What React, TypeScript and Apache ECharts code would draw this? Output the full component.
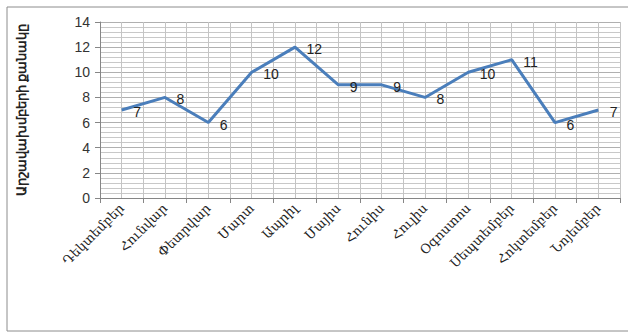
import React, { useEffect, useRef } from "react";
import * as echarts from "echarts";

const months = [
  "Դեկտեմբեր",
  "Հունվար",
  "Փետրվար",
  "Մարտ",
  "Ապրիլ",
  "Մայիս",
  "Հունիս",
  "Հուլիս",
  "Օգոստոս",
  "Սեպտեմբեր",
  "Հոկտեմբեր",
  "Նոյեմբեր",
];
const expeditions = [7, 8, 6, 10, 12, 9, 9, 8, 10, 11, 6, 7];
const halfSlots = Array.from({ length: months.length * 2 }, () => "");
const yAxisTitle = "Արշավախմբերի քանակը";

export default function App() {
  const ref = useRef<HTMLDivElement>(null);
  useEffect(() => {
    if (!ref.current) return;
    const chart = echarts.init(ref.current, undefined, { renderer: "svg" });
    chart.setOption({
      animation: false,
      backgroundColor: "#ffffff",
      graphic: [
        {
          type: "rect",
          shape: { x: 7, y: 7, width: 640, height: 324 },
          style: { fill: "none", stroke: "#8c8c8c", lineWidth: 1 },
          silent: true,
          z: -10,
        },
      ],
      grid: { left: 100, top: 22, right: 8, bottom: 134, containLabel: false },
      xAxis: [
        {
          type: "category",
          data: months,
          boundaryGap: true,
          axisLine: { show: true, lineStyle: { color: "#868686", width: 1 } },
          axisTick: { show: true, length: 5, lineStyle: { color: "#868686" } },
          axisLabel: {
            interval: 0,
            rotate: 45,
            fontSize: 13,
            fontFamily: "DejaVu Serif",
            color: "#222",
            margin: 8,
          },
          splitLine: { show: false },
          z: 5,
        },
        {
          type: "category",
          data: halfSlots,
          boundaryGap: true,
          position: "bottom",
          axisLine: { show: false },
          axisTick: { show: false },
          axisLabel: { show: false },
          splitLine: { show: true, interval: 0, lineStyle: { color: "#c4c4c4", width: 1 } },
        },
      ],
      yAxis: {
        type: "value",
        min: 0,
        max: 14,
        interval: 2,
        name: yAxisTitle,
        nameLocation: "middle",
        nameGap: 72,
        nameRotate: 90,
        nameTextStyle: {
          fontSize: 12.5,
          fontWeight: "bold",
          fontFamily: "Noto Sans",
          color: "#222",
        },
        axisLine: { show: true, lineStyle: { color: "#868686", width: 1 } },
        axisTick: { show: true, length: 5, lineStyle: { color: "#868686" } },
        axisLabel: {
          fontSize: 14,
          fontFamily: "Liberation Sans",
          color: "#333",
          margin: 10,
        },
        splitLine: { show: true, lineStyle: { color: "#b0b0b0", width: 1 } },
        minorTick: { show: false, splitNumber: 5 },
        minorSplitLine: { show: true, lineStyle: { color: "#c8c8c8", width: 1 } },
      },
      series: [
        {
          type: "line",
          data: expeditions,
          xAxisIndex: 0,
          symbol: "circle",
          symbolSize: 1,
          showSymbol: true,
          itemStyle: { color: "rgba(0,0,0,0)" },
          lineStyle: { color: "#4a7ebb", width: 3 },
          label: {
            show: true,
            position: "right",
            distance: 11,
            offset: [0, 2],
            fontSize: 14,
            fontFamily: "Liberation Sans",
            color: "#222",
          },
          z: 10,
        },
      ],
    });
    return () => chart.dispose();
  }, []);
  return <div ref={ref} style={{ width: 628, height: 332, position: "absolute", left: 0, top: 0 }} />;
}
